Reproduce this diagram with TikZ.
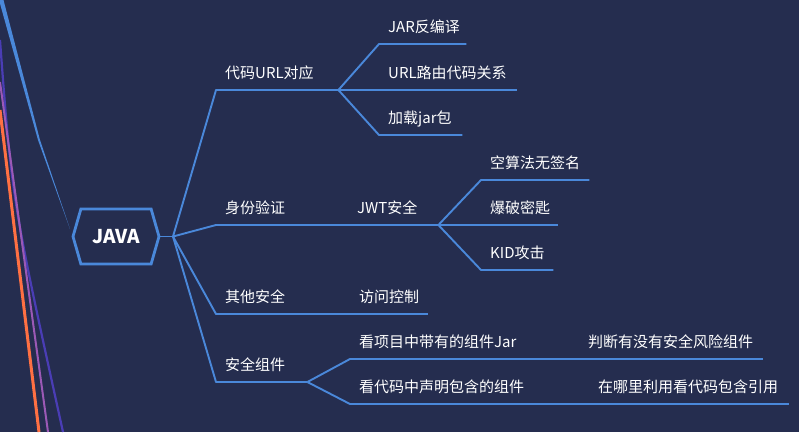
\documentclass[tikz,border=0pt]{standalone}
\usepackage{fontspec}
\setmainfont{Noto Sans CJK SC}
\usetikzlibrary{shapes.symbols}

\definecolor{bgnavy}{HTML}{252D4F}
\definecolor{linkblue}{HTML}{4A88DA}
\definecolor{streakviolet}{HTML}{4A3DB5}
\definecolor{streakpink}{HTML}{9B59B6}
\definecolor{streakorange}{HTML}{FF7043}

% text of a branch, padded to the length of its underline
\newcommand{\branchtext}[2]{\makebox[#1pt][l]{\hspace{9pt}#2}}

\begin{document}
\begin{tikzpicture}[x=1pt, y=-1pt,
    topic/.style={anchor=south west, inner xsep=0pt, inner ysep=11pt, text depth=0pt,
        text=white, font=\fontsize{15}{18}\selectfont},
    link/.style={draw=linkblue, line width=1.9pt, line join=round},
    hexa/.style={signal, signal to=east and west, signal pointer angle=148,
        draw=linkblue, line width=2.8pt, fill=bgnavy, minimum width=86pt, minimum height=55pt,
        text=white, font=\bfseries\fontsize{19}{22}\selectfont}]

    \fill[bgnavy] (0,0) rectangle (799,432);
    \useasboundingbox (0,0) rectangle (799,432);
    \begin{scope}
        \clip (0,0) rectangle (799,432);
        \fill[linkblue] (-1,0) -- (3.5,0) -- (40,140) -- (70,229) -- (38,140) -- cycle;
        \draw[streakviolet, line width=2.2pt] (0,40) .. controls (12,200) .. (63,432);
        \draw[streakpink, line width=2pt] (0,82) -- (48,432);
        \draw[streakorange, line width=3pt] (0,110) -- (39,432);
    \end{scope}

    \node [hexa] (java) at (116,236.5) {JAVA};
    \coordinate (hub) at (173,236.5);

    % first level
    \node [topic] (url) at (216,90) {\branchtext{122}{代码URL对应}};
    \node [topic] (auth) at (216,225) {\branchtext{132}{身份验证}};
    \node [topic] (other) at (216,314) {\branchtext{134}{其他安全}};
    \node [topic] (comp) at (216,382) {\branchtext{91}{安全组件}};

    % second level
    \node [topic] (jar) at (379,44) {\branchtext{87}{JAR反编译}};
    \node [topic] (route) at (379,90) {\branchtext{138}{URL路由代码关系}};
    \node [topic] (load) at (379,135) {\branchtext{83}{加载jar包}};
    \node [topic] (jwt) at (348,225) {\branchtext{90}{JWT安全}};
    \node [topic] (access) at (350,314) {\branchtext{78}{访问控制}};
    \node [topic] (owned) at (350,359) {\branchtext{229}{看项目中带有的组件Jar}};
    \node [topic] (declared) at (350,404) {\branchtext{239}{看代码中声明包含的组件}};

    % third level
    \node [topic] (nosign) at (481,180) {\branchtext{108}{空算法无签名}};
    \node [topic] (brute) at (481,225) {\branchtext{77}{爆破密匙}};
    \node [topic] (kid) at (481,270) {\branchtext{72}{KID攻击}};
    \node [topic] (risk) at (579,359) {\branchtext{184}{判断有没有安全风险组件}};
    \node [topic] (usage) at (589,404) {\branchtext{200}{在哪里利用看代码包含引用}};

    \draw [link] (java.east) -- (hub);
    \foreach \n in {url, auth, other, comp}
        \draw [link] (hub) -- (\n.south west) -- (\n.south east);
    \foreach \n in {jar, route, load}
        \draw [link] (url.south east) -- (\n.south west) -- (\n.south east);
    \foreach \n in {nosign, brute, kid}
        \draw [link] (jwt.south east) -- (\n.south west) -- (\n.south east);
    \foreach \n in {owned, declared}
        \draw [link] (comp.south east) -- (\n.south west) -- (\n.south east);
    \draw [link] (auth.south east) -- (jwt.south west) -- (jwt.south east);
    \draw [link] (other.south east) -- (access.south west) -- (access.south east);
    \draw [link] (owned.south east) -- (risk.south west) -- (risk.south east);
    \draw [link] (declared.south east) -- (usage.south west) -- (usage.south east);

\end{tikzpicture}
\end{document}
